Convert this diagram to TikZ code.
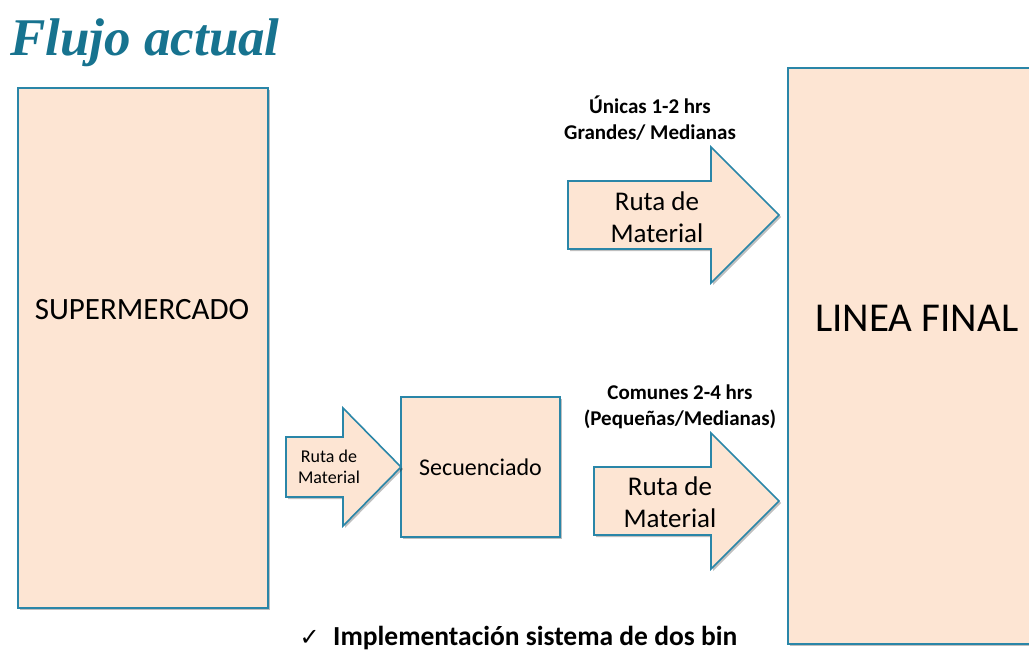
\documentclass[tikz,border=0pt]{standalone}
\usepackage{xcolor}
\usepackage{fontspec}
\setmainfont{Carlito}
\newfontfamily\titlefont{Liberation Serif}
\newfontfamily\symfont{DejaVu Sans}
\usepackage{tikz}
\usetikzlibrary{positioning, shadows}

\definecolor{peach}{HTML}{FDE5D3}
\definecolor{tealline}{HTML}{2A86A8}
\definecolor{titleblue}{HTML}{17738F}

\tikzset{
  box/.style={draw=tealline, fill=peach, line width=1.6pt, line join=miter,
    drop shadow={shadow xshift=2pt, shadow yshift=-2pt, opacity=0.25, fill=black}},
  boxtext/.style={inner sep=0pt, align=center},
  routetext/.style={inner sep=0pt, align=center, font=\fontsize{27}{32}\selectfont},
  note/.style={inner sep=0pt, align=center, font=\bfseries\fontsize{21}{26}\selectfont},
}

\begin{document}
\begin{tikzpicture}[x=1pt, y=-1pt]
        \clip (0,0) rectangle (1029,653);

        \node[anchor=base west, inner sep=0pt, text=titleblue,
          font=\titlefont\bfseries\itshape\fontsize{53}{60}\selectfont] (title) at (10,55) {Flujo actual};

        % storage and line
        \node[box, anchor=north west, minimum width=250pt, minimum height=520pt] (super) at (17,87) {};
        \node[boxtext, font=\fontsize{31}{36}\selectfont] (supertext) at (142,310) {SUPERMERCADO};
        \node[box, minimum width=159pt, minimum height=140pt, font=\fontsize{24}{28}\selectfont] (secu) at (480.5,467) {Secuenciado};
        \node[box, anchor=north west, minimum width=270pt, minimum height=576pt] (linea) at (787,67) {};
        \node[boxtext, anchor=west, font=\fontsize{41}{48}\selectfont] (lineatext) at (815,318) {LINEA FINAL};

        % material routes
        \draw[box] (286,437) -- (343,437) -- (343,408) -- (401,467) -- (343,526) -- (343,497) -- (286,497) -- cycle;
        \node[boxtext, font=\fontsize{18}{21}\selectfont] (rutaS) at (329,467) {Ruta de\\Material};

        \draw[box] (568,181) -- (711,181) -- (711,147) -- (779,215) -- (711,283) -- (711,249) -- (568,249) -- cycle;
        \node[routetext] (rutaU) at (657,217) {Ruta de\\Material};
        \node[note] (unicas) at (650,118) {Únicas 1-2 hrs\\Grandes/ Medianas};

        \draw[box] (594,467) -- (711,467) -- (711,433) -- (779,501) -- (711,569) -- (711,535) -- (594,535) -- cycle;
        \node[routetext] (rutaC) at (670,502) {Ruta de\\Material};
        \node[note] (comunes) at (680,407) {Comunes 2-4 hrs\\(Pequeñas/Medianas)};

        \node[anchor=west, inner sep=0pt, font=\bfseries\fontsize{27.5}{32}\selectfont] (twobin) at (333,638) {Implementación sistema de dos bin};
        \node[inner sep=0pt, left=13pt of twobin, font=\symfont\fontsize{24}{28}\selectfont] (check) {✓};

\end{tikzpicture}
\end{document}
